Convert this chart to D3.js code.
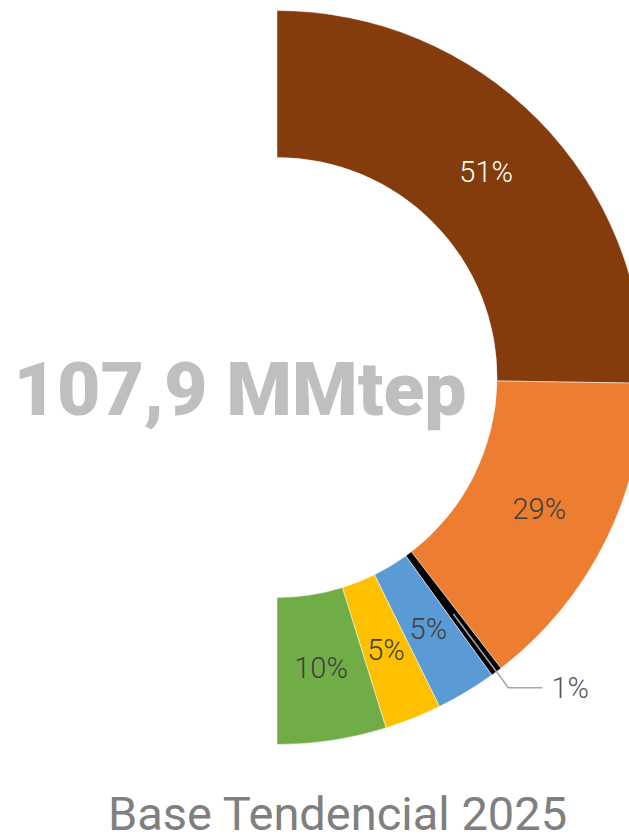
<!DOCTYPE html>
<html>
<head>
<meta charset="utf-8">
<script src="https://cdn.jsdelivr.net/npm/d3@7"></script>
<style>
  body { margin: 0; background: #fff; }
  svg { display: block; }
</style>
</head>
<body>
<div id="chart"></div>
<script>
// data (share of total, half donut)
var categories = ["Categoría 1", "Categoría 2", "Categoría 3", "Categoría 4", "Categoría 5", "Categoría 6"];
var values = [50.5, 28.6, 1.0, 5.3, 5.0, 9.6];
var colors = ["#843C0C", "#ED7D31", "#000000", "#5B9BD5", "#FFC000", "#70AD47"];
var labelColors = ["#FFFFFF", "#404040", "#595959", "#404040", "#404040", "#404040"];
var centerText = "107,9 MMtep";
var title = "Base Tendencial 2025";

var width = 629, height = 840;
var cx = 277, cy = 377.5;
var rOuter = 367, rInner = 220;

var svg = d3.select("#chart")
    .append("svg")
    .attr("width", width)
    .attr("height", height);

var total = d3.sum(values);
var rows = categories.map(function (c, i) { return { name: c, value: values[i], i: i }; });

var pie = d3.pie()
    .sort(null)
    .value(function (d) { return d.value; })
    .startAngle(0)
    .endAngle(Math.PI);

var arc = d3.arc().innerRadius(rInner).outerRadius(rOuter);
var pct = d3.format(".0%");

var g = svg.append("g").attr("transform", "translate(" + cx + "," + cy + ")");
var arcs = pie(rows);

g.selectAll("path")
    .data(arcs)
    .enter()
    .append("path")
    .attr("d", arc)
    .attr("fill", function (d) { return colors[d.data.i]; })
    .attr("stroke", "#fff")
    .attr("stroke-width", 0.5);

// inside labels (all but the tiny slice)
g.selectAll("text.lbl")
    .data(arcs.filter(function (d) { return d.data.value >= 2; }))
    .enter()
    .append("text")
    .attr("class", "lbl")
    .attr("transform", function (d) { return "translate(" + arc.centroid(d) + ")"; })
    .attr("text-anchor", "middle")
    .attr("dy", "0.35em")
    .style("font-family", "Roboto")
    .style("font-weight", 300)
    .style("font-size", "29px")
    .attr("fill", function (d) { return labelColors[d.data.i]; })
    .text(function (d) { return pct(d.data.value / total); });

// leader line for the small slice
var small = arcs.filter(function (d) { return d.data.value < 2; })[0];
var mid = (small.startAngle + small.endAngle) / 2;
var p0 = d3.arc().innerRadius(295).outerRadius(295).centroid(small);
var p1 = [Math.sin(mid) * 387, -Math.cos(mid) * 387];
var p2 = [p1[0] + 34, p1[1]];
g.append("polyline")
    .attr("points", [p0, p1, p2].map(function (p) { return p.join(","); }).join(" "))
    .attr("fill", "none")
    .attr("stroke", "#A6A6A6")
    .attr("stroke-width", 1.5);
g.append("text")
    .attr("x", p2[0] + 9)
    .attr("y", p2[1])
    .attr("dy", "0.35em")
    .style("font-family", "Roboto")
    .style("font-weight", 300)
    .style("font-size", "29px")
    .attr("fill", labelColors[small.data.i])
    .text(pct(small.data.value / total));

// center total
svg.append("text")
    .attr("x", 240)
    .attr("y", 415)
    .attr("text-anchor", "middle")
    .style("font-family", "Roboto")
    .style("font-weight", 900)
    .style("font-size", "75px")
    .attr("fill", "#BFBFBF")
    .text(centerText);

// title
svg.append("text")
    .attr("x", 337.5)
    .attr("y", 830)
    .attr("text-anchor", "middle")
    .style("font-family", "Roboto")
    .style("font-weight", 400)
    .style("font-size", "47px")
    .attr("fill", "#7F7F7F")
    .text(title);
</script>
</body>
</html>
